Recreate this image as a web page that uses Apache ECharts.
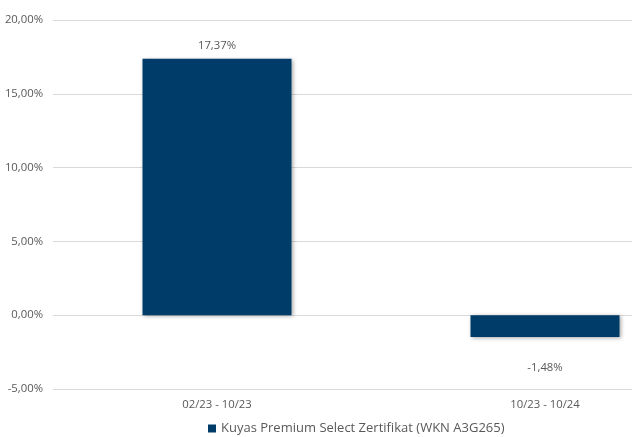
<!DOCTYPE html>
<html><head><meta charset="utf-8">
<script src="https://cdn.jsdelivr.net/npm/echarts@6/dist/echarts.min.js"></script>
<style>html,body{margin:0;padding:0;background:#fff}#c{width:632px;height:437px}</style>
</head><body><div id="c"></div>
<script>
const categories = ['02/23 - 10/23', '10/23 - 10/24'];
const seriesName = 'Kuyas Premium Select Zertifikat (WKN A3G265)';
const values = [17.37, -1.48];
const yTicks = [-5, 0, 5, 10, 15, 20];

const fmt = v => v.toFixed(2).replace('.', ',') + '%';
const font = '"Open Sans", sans-serif';
const chart = echarts.init(document.getElementById('c'));
chart.setOption({
  animation: false,
  grid: { left: 53, width: 656, top: 20, height: 369, containLabel: false, outerBoundsMode: 'none' },
  legend: {
    left: 203, top: 417, itemWidth: 8, itemHeight: 8, icon: 'rect', itemGap: 4,
    textStyle: { color: '#595959', fontSize: 13, fontFamily: font },
    data: [seriesName]
  },
  xAxis: {
    type: 'category', data: categories,
    axisLine: { show: false }, axisTick: { show: false },
    axisLabel: { color: '#595959', fontSize: 11.3, fontFamily: font, margin: 10 }
  },
  yAxis: {
    type: 'value', min: yTicks[0], max: yTicks[yTicks.length - 1], interval: 5,
    axisLine: { show: false }, axisTick: { show: false },
    splitLine: { lineStyle: { color: '#d9d9d9', width: 1 } },
    axisLabel: { color: '#595959', fontSize: 11.3, fontFamily: font, margin: 10, formatter: fmt }
  },
  series: [{
    name: seriesName, type: 'bar', barWidth: 149,
    data: values.map(v => v < 0 ? { value: v, label: { position: 'bottom', distance: 25 } } : v),
    itemStyle: { color: '#003C69', shadowColor: 'rgba(0,0,0,0.35)', shadowBlur: 4, shadowOffsetX: 1, shadowOffsetY: 1 },
    label: {
      show: true, position: 'top', distance: 8, color: '#595959', fontSize: 11.3, fontFamily: font,
      formatter: p => fmt(p.value)
    }
  }]
});
</script></body></html>
